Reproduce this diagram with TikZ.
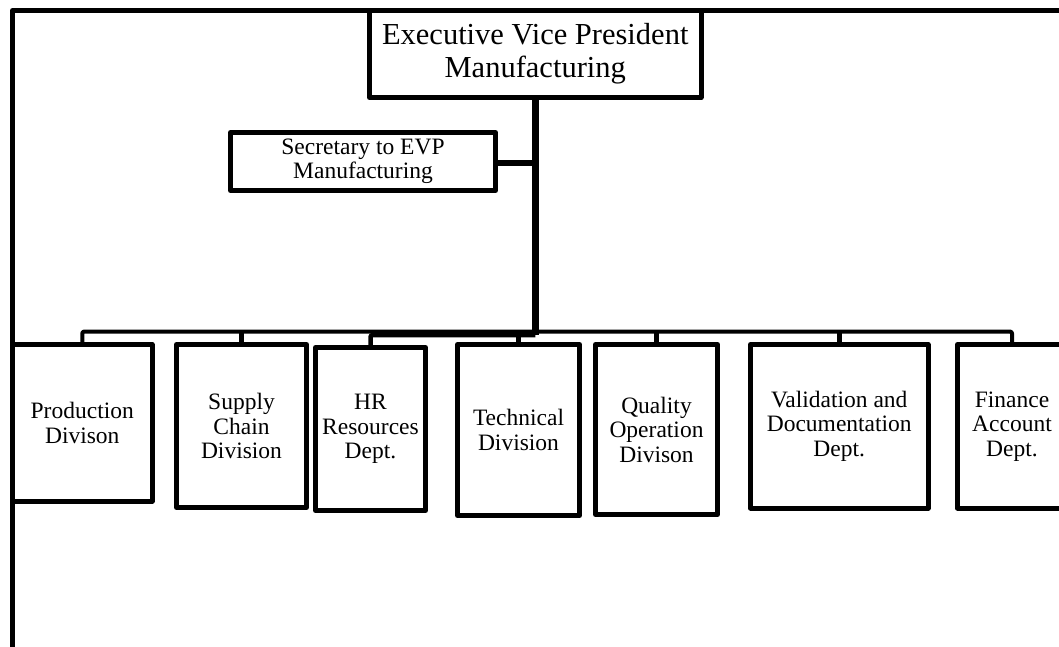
\documentclass[tikz,border=0pt]{standalone}
\usepackage{fontspec}
\setmainfont{Liberation Serif}
\newcommand\unitfont{\fontsize{23.5}{24.5}\selectfont}
\newcommand\headfont{\fontsize{30.5}{33}\selectfont}
\tikzset{
  box/.style={draw, line width=5pt, line join=round, inner sep=0pt,
    align=center, font=\unitfont, fill=white},
  link/.style={line width=4.5pt, line join=round},
  buslink/.style={line width=4pt, line join=round, rounded corners=2pt},
}
\begin{document}
\begin{tikzpicture}[x=1pt, y=-1pt]
\useasboundingbox (0,0) rectangle (1059,646);
\clip (0,0) rectangle (1059,646);
\fill[white] (0,0) rectangle (1059,646);

% outer frame (left and top edges)
\draw[link, line width=5pt] (12.5,680) -- (12.5,10.5) -- (1100,10.5);

% junction points
\coordinate (hub) at (535.25,335);
\coordinate (bus) at (535.25,331.5);

% top of the chart
\node[box, font=\headfont, minimum width=331.5pt, minimum height=87pt]
  (evp) at (535.25,54) {Executive Vice President\\Manufacturing};
\node[box, minimum width=265pt, minimum height=58pt]
  (sec) at (363,161.5) {Secretary to EVP\\Manufacturing};

% divisions and departments
\node[box, minimum width=139.5pt, minimum height=156.5pt]
  (prod) at (82.25,422.75) {Production\\Divison};
\node[box, minimum width=130pt, minimum height=163pt]
  (supply) at (241.5,426) {Supply\\Chain\\Division};
\node[box, minimum width=110pt, minimum height=163pt]
  (hr) at (370.5,429) {HR\\Resources\\Dept.};
\node[box, minimum width=122pt, minimum height=171pt]
  (tech) at (518.5,430) {Technical\\Division};
\node[box, minimum width=122pt, minimum height=170pt]
  (qual) at (656.5,429.5) {Quality\\Operation\\Divison};
\node[box, minimum width=177.5pt, minimum height=163.5pt]
  (valid) at (839.25,426.25) {Validation and\\Documentation\\Dept.};
\node[box, minimum width=109pt, minimum height=163.5pt]
  (fin) at (1012,426.25) {Finance\\Account\\Dept.};

% reporting lines
\draw[link, line width=6.5pt] (evp.south) -- (hub);
\draw[link, line width=5.5pt] (sec.east |- 0,163) -- (evp.south |- 0,163);
\draw[buslink] (prod.north) -- (prod.north |- bus) -- (fin.north |- bus) -- (fin.north);
\foreach \u in {supply, tech, qual, valid}
  \draw[link] (\u.north) -- (\u.north |- bus);
\draw[link, rounded corners=2pt] (hub) -| (hr.north);
\end{tikzpicture}
\end{document}
